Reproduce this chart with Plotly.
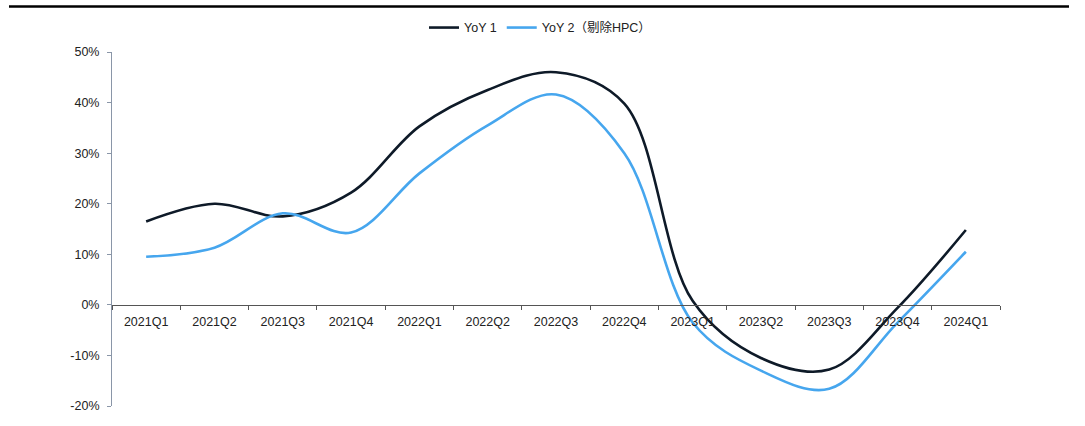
import plotly.graph_objects as go

quarters = ["2021Q1", "2021Q2", "2021Q3", "2021Q4",
            "2022Q1", "2022Q2", "2022Q3", "2022Q4",
            "2023Q1", "2023Q2", "2023Q3", "2023Q4", "2024Q1"]
yoy_1 = [16.5, 20.0, 17.5, 22.2, 35.3, 42.5, 46.0, 39.8, 0.8, -10.5, -12.8, -0.6, 14.8]
yoy_2 = [9.5, 11.3, 18.1, 14.3, 26.0, 35.5, 41.6, 30.0, -3.5, -13.0, -16.6, -3.5, 10.5]

y_ticks = [-20, -10, 0, 10, 20, 30, 40, 50]
y_tick_text = [f"{v}%" for v in y_ticks]

DARK = "#0e1a28"
BLUE = "#46a6ee"
FONT = "Liberation Sans, Arial, Noto Sans CJK SC, sans-serif"

fig = go.Figure()
fig.add_trace(go.Scatter(
    x=quarters, y=yoy_1, name="YoY 1", mode="lines",
    line=dict(color=DARK, width=2.6, shape="spline", smoothing=1.0),
))
fig.add_trace(go.Scatter(
    x=quarters, y=yoy_2, name="YoY 2（剔除HPC）", mode="lines",
    line=dict(color=BLUE, width=2.6, shape="spline", smoothing=1.0),
))

# x axis sits on the zero line
zero_pos = (0 - (-20)) / (50 - (-20))

fig.update_layout(
    width=1085, height=426,
    margin=dict(l=112, r=85, t=52, b=20),
    paper_bgcolor="white", plot_bgcolor="white",
    font=dict(family=FONT, size=12, color="#222222"),
    showlegend=True,
    legend=dict(orientation="h", x=0.482, xanchor="center", y=1.068, yanchor="middle",
                font=dict(size=12.5, color="#222222"), itemwidth=30,
                bgcolor="rgba(0,0,0,0)"),
    xaxis=dict(
        type="category", anchor="free", position=zero_pos,
        showline=True, linecolor="#555555", linewidth=1,
        ticks="outside", tickson="boundaries", ticklen=4, tickcolor="#555555",
        ticklabelstandoff=5,
        showgrid=False, zeroline=False, tickfont=dict(size=12.5, color="#222222"),
        range=[-0.5, len(quarters) - 0.5],
    ),
    yaxis=dict(
        range=[-20, 50], tickvals=y_ticks, ticktext=y_tick_text,
        showline=True, linecolor="#8a96a8", linewidth=1,
        ticks="outside", ticklen=4, tickcolor="#8a96a8",
        ticklabelstandoff=5,
        showgrid=False, zeroline=False, tickfont=dict(size=12.5, color="#222222"),
    ),
    shapes=[dict(type="line", xref="paper", yref="paper",
                 x0=-0.116, x1=1.0777, y0=1.1285, y1=1.1285,
                 line=dict(color="black", width=2.5))],
)

fig.write_html("out.html")
